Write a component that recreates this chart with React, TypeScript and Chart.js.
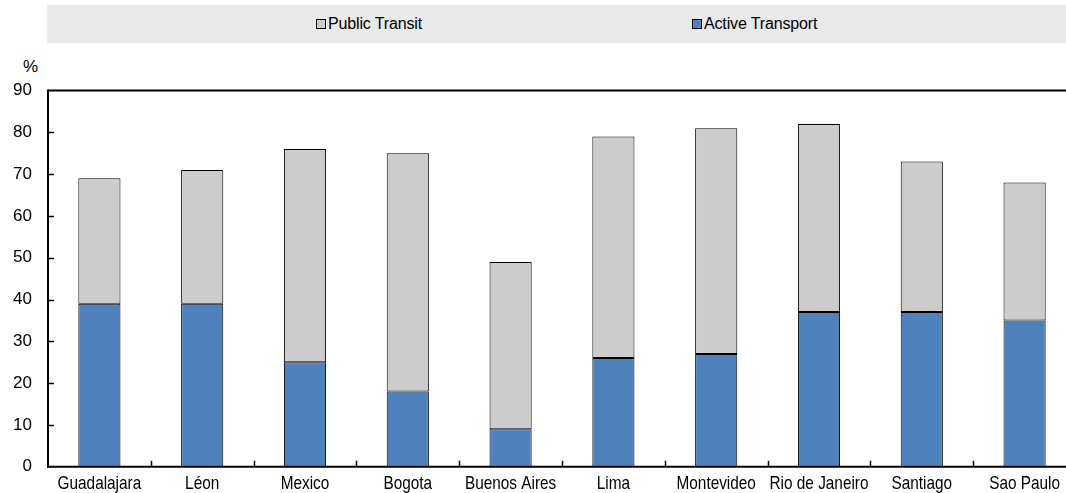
import React, { useEffect, useRef } from "react";
import { Chart, registerables } from "chart.js";

Chart.register(...registerables);

const categories = ["Guadalajara", "Léon", "Mexico", "Bogota", "Buenos Aires", "Lima", "Montevideo", "Rio de Janeiro", "Santiago", "Sao Paulo"];
const activeTransport = [39, 39, 25, 18, 9, 26, 27, 37, 37, 35];
const publicTransit = [30, 32, 51, 57, 40, 53, 54, 45, 36, 33];
const yTicks = [0, 10, 20, 30, 40, 50, 60, 70, 80, 90];

const FONT = "'Liberation Sans', Arial, sans-serif";
const BLUE = "#4f81bd";
const GREY = "#cccccc";

const axesPlugin = {
  id: "customAxes",
  afterDatasetsDraw(chart: any) {
    const { ctx, chartArea, scales } = chart;
    const x = scales.x;
    const y = scales.y;
    ctx.save();
    ctx.strokeStyle = "#000";
    ctx.lineWidth = 2;
    ctx.beginPath();
    ctx.moveTo(chartArea.left, chartArea.top);
    ctx.lineTo(chartArea.right, chartArea.top);
    ctx.stroke();
    ctx.beginPath();
    ctx.moveTo(chartArea.left, chartArea.top - 1);
    ctx.lineTo(chartArea.left, chartArea.bottom + 1);
    ctx.stroke();
    ctx.beginPath();
    ctx.moveTo(chartArea.left - 1, chartArea.bottom);
    ctx.lineTo(chartArea.right, chartArea.bottom);
    ctx.stroke();
    ctx.lineWidth = 1.5;
    yTicks.forEach((v) => {
      if (v === 0 || v === 90) return;
      const py = Math.round(y.getPixelForValue(v)) + 0.5;
      ctx.beginPath();
      ctx.moveTo(chartArea.left, py);
      ctx.lineTo(chartArea.left + 6, py);
      ctx.stroke();
    });
    for (let i = 1; i < categories.length; i++) {
      const px = Math.round((x.getPixelForValue(i - 1) + x.getPixelForValue(i)) / 2) + 0.5;
      ctx.beginPath();
      ctx.moveTo(px, chartArea.bottom);
      ctx.lineTo(px, chartArea.bottom - 6);
      ctx.stroke();
    }
    // category labels in a condensed style
    ctx.fillStyle = "#000";
    ctx.font = `18.5px ${FONT}`;
    ctx.textAlign = "center";
    ctx.textBaseline = "alphabetic";
    categories.forEach((label, i) => {
      const px = x.getPixelForValue(i);
      ctx.save();
      ctx.translate(px, chartArea.bottom + 22.5);
      ctx.scale(0.83, 1);
      ctx.fillText(label, 0, 0);
      ctx.restore();
    });
    ctx.restore();
  },
};

export default function App() {
  const ref = useRef<HTMLCanvasElement>(null);
  useEffect(() => {
    if (!ref.current) return;
    const chart = new Chart(ref.current, {
      type: "bar",
      data: {
        labels: categories,
        datasets: [
          {
            label: "Active Transport",
            data: activeTransport,
            backgroundColor: BLUE,
            borderColor: "#000",
            borderWidth: 1,
            borderSkipped: false,
            barPercentage: 0.41,
            categoryPercentage: 1,
          },
          {
            label: "Public Transit",
            data: publicTransit,
            backgroundColor: GREY,
            borderColor: "#000",
            borderWidth: 1,
            borderSkipped: false,
            barPercentage: 0.41,
            categoryPercentage: 1,
          },
        ],
      },
      options: {
        responsive: false,
        animation: false,
        maintainAspectRatio: false,
        layout: { padding: { top: 90.5, left: 0, right: 4, bottom: 0 } },
        plugins: { legend: { display: false }, tooltip: { enabled: false } },
        scales: {
          x: {
            stacked: true,
            grid: { display: false, drawTicks: false },
            border: { display: false },
            ticks: { display: false },
            afterFit(scale: any) {
              scale.height = 24;
            },
          },
          y: {
            stacked: true,
            min: 0,
            max: 90,
            grid: { display: false, drawTicks: false },
            border: { display: false },
            ticks: { stepSize: 10, color: "#000", font: { family: FONT, size: 17 }, padding: 16 },
            afterFit(scale: any) {
              scale.width = 48;
            },
          },
        },
      },
      plugins: [axesPlugin],
    });
    return () => chart.destroy();
  }, []);

  const legendText: React.CSSProperties = {
    position: "absolute",
    fontFamily: FONT,
    fontSize: 16,
    color: "#000",
    lineHeight: "16px",
    top: 16,
    letterSpacing: "-0.15px",
    whiteSpace: "nowrap",
  };
  const sq = (left: number, color: string): React.CSSProperties => ({
    position: "absolute",
    left,
    top: 19,
    width: 8,
    height: 8,
    background: color,
    border: "1px solid #000",
  });

  return (
    <div style={{ position: "fixed", left: 0, top: 0, width: 1066, height: 493, overflow: "hidden", background: "#fff" }}>
      <div style={{ position: "absolute", left: 47, top: 5, width: 1019, height: 38, background: "#e9e9e9" }} />
      <div style={sq(316, GREY)} />
      <div style={{ ...legendText, left: 328 }}>Public Transit</div>
      <div style={sq(692, BLUE)} />
      <div style={{ ...legendText, left: 704 }}>Active Transport</div>
      <div style={{ position: "absolute", left: 23, top: 58, fontFamily: FONT, fontSize: 17, lineHeight: "17px" }}>%</div>
      <canvas ref={ref} width={1080} height={493} style={{ position: "absolute", left: 0, top: 0, width: 1080, height: 493 }} />
    </div>
  );
}
